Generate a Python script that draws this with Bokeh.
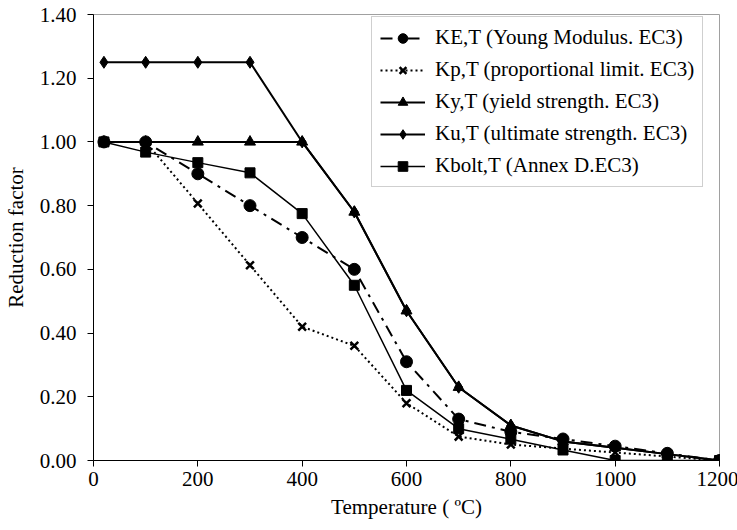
from bokeh.plotting import figure
from bokeh.models import Range1d, FixedTicker, NumeralTickFormatter
from bokeh.embed import file_html
from bokeh.resources import INLINE

temps = [20, 100, 200, 300, 400, 500, 600, 700, 800, 900, 1000, 1100, 1200]
ke_t = [1.0, 1.0, 0.90, 0.80, 0.70, 0.60, 0.31, 0.13, 0.09, 0.0675, 0.045, 0.0225, 0.0]
kp_t = [1.0, 1.0, 0.807, 0.613, 0.42, 0.36, 0.18, 0.075, 0.05, 0.0375, 0.025, 0.0125, 0.0]
ky_t = [1.0, 1.0, 1.0, 1.0, 1.0, 0.78, 0.47, 0.23, 0.11, 0.06, 0.04, 0.02, 0.0]
ku_t = [1.25, 1.25, 1.25, 1.25, 1.0, 0.78, 0.47, 0.23, 0.11, 0.06, 0.04, 0.02, 0.0]
kbolt_t = [1.0, 0.968, 0.935, 0.903, 0.775, 0.55, 0.22, 0.10, 0.067, 0.033, 0.0, 0.0, 0.0]

x_ticks = [0, 200, 400, 600, 800, 1000, 1200]
y_ticks = [0.0, 0.2, 0.4, 0.6, 0.8, 1.0, 1.2, 1.4]

labels = [
    "KE,T (Young Modulus. EC3)",
    "Kp,T (proportional limit. EC3)",
    "Ky,T (yield strength. EC3)",
    "Ku,T (ultimate strength. EC3)",
    "Kbolt,T (Annex D.EC3)",
]

FONT = "Liberation Serif"

p = figure(width=737, height=530, output_backend="svg", toolbar_location=None,
           x_range=Range1d(0, 1200), y_range=Range1d(0, 1.4),
           frame_width=626, frame_height=446,
           min_border_left=92, min_border_right=19, min_border_top=14, min_border_bottom=70)

p.background_fill_color = "white"
p.border_fill_color = "white"
p.outline_line_color = "#a0a0a0"
p.outline_line_width = 1
p.xgrid.visible = False
p.ygrid.visible = False

for ax in (p.xaxis[0], p.yaxis[0]):
    ax.axis_line_color = "black"
    ax.axis_line_width = 1
    ax.major_tick_line_color = "black"
    ax.major_tick_out = 6
    ax.major_tick_in = 0
    ax.minor_tick_line_color = None
    ax.major_label_text_font = FONT
    ax.major_label_text_font_size = "21px"
    ax.major_label_text_color = "black"
    ax.axis_label_text_font = FONT
    ax.axis_label_text_font_size = "21px"
    ax.axis_label_text_font_style = "normal"
    ax.axis_label_text_color = "black"

p.xaxis.ticker = FixedTicker(ticks=x_ticks)
p.yaxis.ticker = FixedTicker(ticks=y_ticks)
p.yaxis.formatter = NumeralTickFormatter(format="0.00")
p.xaxis.axis_label = "Temperature ( ºC)"
p.yaxis.axis_label = "Reduction factor"
p.xaxis.major_label_standoff = 5
p.yaxis.major_label_standoff = 11
p.xaxis.axis_label_standoff = 6
p.yaxis.axis_label_standoff = 9

# KE,T
p.line(temps, ke_t, color="black", line_width=2, line_dash="12 6 3 6", legend_label=labels[0])
p.scatter(temps, ke_t, marker="circle", size=12, color="black", legend_label=labels[0])
# Kp,T
p.line(temps, kp_t, color="black", line_width=2, line_dash="2 3", legend_label=labels[1])
p.scatter(temps, kp_t, marker="x", size=11, line_color="black", line_width=2.5, legend_label=labels[1])
# Ky,T
p.line(temps, ky_t, color="black", line_width=2, legend_label=labels[2])
p.scatter(temps, ky_t, marker="triangle", size=11, color="black", legend_label=labels[2])
# Ku,T
p.line(temps, ku_t, color="black", line_width=2, legend_label=labels[3])
p.scatter(temps, ku_t, marker="diamond", size=12, color="black", legend_label=labels[3])
# Kbolt,T
p.line(temps, kbolt_t, color="black", line_width=1.5, legend_label=labels[4])
p.scatter(temps, kbolt_t, marker="square", size=10, color="black", legend_label=labels[4])

lg = p.legend[0]
lg.location = (278, 273)
lg.border_line_color = "#a0a0a0"
lg.border_line_width = 1
lg.background_fill_color = "white"
lg.background_fill_alpha = 1
lg.label_text_font = FONT
lg.label_text_font_size = "21px"
lg.label_text_color = "black"
lg.glyph_width = 45
lg.glyph_height = 24
lg.label_height = 24
lg.spacing = 7
lg.padding = 8
lg.margin = 0
lg.label_standoff = 10

open("out.html", "w").write(file_html(p, INLINE))
